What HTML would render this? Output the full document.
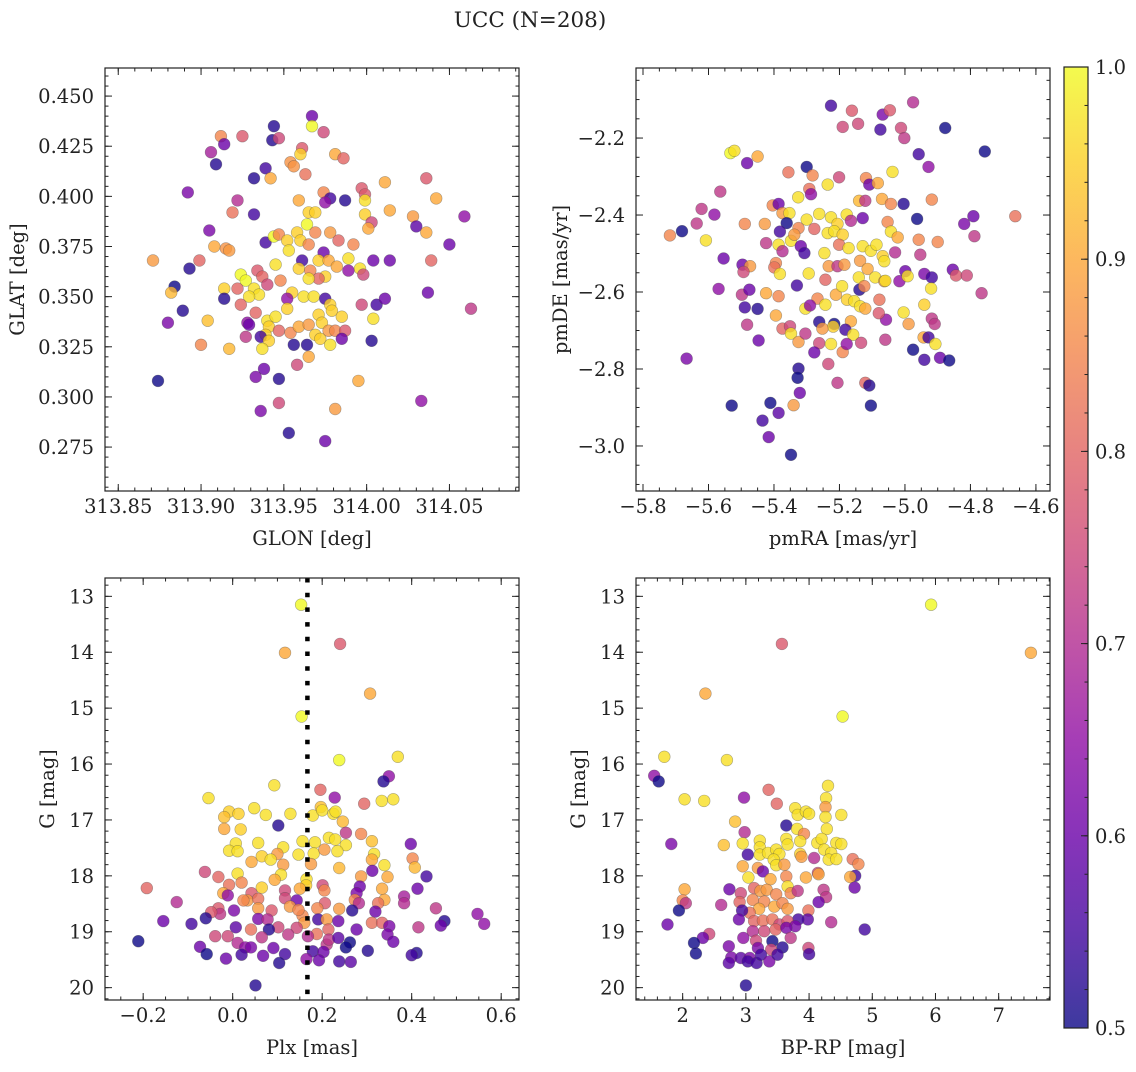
<!DOCTYPE html>
<html><head><meta charset="utf-8"><style>
html,body{margin:0;padding:0;background:#fff;}
svg text{font-family:"DejaVu Serif","Liberation Serif",serif;fill:#222;}
</style></head><body>
<svg id="fig" width="1136" height="1067" viewBox="0 0 1136 1067" xmlns="http://www.w3.org/2000/svg">
<defs>
<linearGradient id="plasmaGrad" x1="0" y1="1" x2="0" y2="0">
<stop offset="0" stop-color="#0d0887"/><stop offset="0.1" stop-color="#41049d"/><stop offset="0.2" stop-color="#6a00a8"/><stop offset="0.3" stop-color="#8f0da4"/><stop offset="0.4" stop-color="#b12a90"/><stop offset="0.5" stop-color="#cc4778"/><stop offset="0.6" stop-color="#e16462"/><stop offset="0.7" stop-color="#f2844b"/><stop offset="0.8" stop-color="#fca636"/><stop offset="0.9" stop-color="#fcce25"/><stop offset="1" stop-color="#f0f921"/>
</linearGradient>
</defs>
<text x="530" y="27" text-anchor="middle" font-size="21.5">UCC (N=208)</text>
</svg>
<script>
// ---- Panel TL: GLON vs GLAT ----
const glon=[313.967,313.967,313.974,313.944,313.943,313.947,313.912,313.914,313.925,313.906,313.909,313.961,313.960,313.981,313.986,313.954,313.956,313.963,313.939,313.932,313.942,314.011,314.036,313.892,313.922,313.919,313.932,313.959,313.974,313.978,313.975,313.987,313.997,313.999,313.999,313.999,314.003,314.001,314.014,314.042,314.028,314.030,314.036,314.059,314.050,313.965,313.969,313.964,313.969,313.978,313.983,313.992,313.905,313.908,313.915,313.917,313.871,313.899,313.893,313.884,313.882,313.914,313.914,313.889,313.880,313.904,313.900,313.917,313.874,313.939,313.944,313.947,313.952,313.958,313.960,313.953,313.965,313.974,313.989,313.996,314.004,314.014,314.039,313.998,313.961,313.971,313.977,313.982,313.959,313.945,313.966,313.975,313.971,313.965,313.989,313.924,313.927,313.934,313.937,313.948,313.940,313.922,313.932,313.935,313.929,313.955,313.962,313.968,313.975,313.952,313.924,313.933,313.952,313.978,313.979,313.985,313.997,314.006,314.011,314.037,314.063,314.004,314.003,313.928,313.929,313.940,313.945,313.941,313.947,313.939,313.936,313.941,313.927,313.954,313.959,313.965,313.971,313.973,313.969,313.972,313.977,313.978,313.981,313.987,313.985,313.956,313.964,313.937,313.965,313.958,313.938,313.933,313.947,313.995,314.033,313.947,313.936,313.981,313.953,313.975];
const glat=[.440,.435,.432,.435,.428,.429,.430,.426,.430,.422,.416,.424,.421,.421,.419,.417,.415,.411,.414,.409,.409,.407,.409,.402,.398,.392,.391,.398,.402,.399,.397,.398,.404,.401,.398,.391,.387,.384,.393,.399,.390,.385,.382,.390,.376,.392,.392,.386,.382,.382,.378,.376,.383,.375,.374,.373,.368,.368,.364,.355,.352,.354,.349,.343,.337,.338,.326,.324,.308,.377,.380,.381,.378,.382,.378,.373,.376,.372,.369,.364,.368,.368,.368,.361,.368,.368,.368,.365,.364,.366,.363,.360,.359,.359,.363,.361,.358,.363,.360,.358,.356,.354,.354,.351,.350,.352,.350,.350,.349,.349,.346,.342,.344,.346,.343,.340,.346,.346,.349,.352,.344,.339,.328,.337,.336,.338,.340,.335,.333,.331,.330,.328,.330,.332,.335,.336,.341,.337,.331,.329,.333,.326,.333,.333,.329,.326,.326,.324,.320,.316,.314,.310,.309,.308,.298,.297,.293,.294,.282,.278];
const probTL=[.6,1,.75,.52,.52,.75,.85,.6,.78,.68,.52,.78,.95,.9,.8,.87,.87,.82,.55,.52,.9,.9,.78,.62,.7,.82,.55,.9,.85,.55,.65,.52,.78,.78,.97,.95,.75,.9,.9,.9,.88,.58,.9,.65,.6,.95,.95,1,.85,.88,.8,.85,.62,.9,.87,.88,.88,.8,.52,.5,.92,.95,.52,.52,.62,.93,.85,.92,.5,.55,1,.85,.95,.95,.95,.97,.85,.6,.97,.97,.6,.6,.8,.75,.55,.95,.9,.9,.95,.97,.85,.95,.8,.97,.65,1,1,.78,.8,.85,.75,.8,.97,.97,.97,.95,.97,.97,.55,.65,.8,.8,.95,.95,.95,.95,.75,.55,.6,.6,.72,.97,.52,.65,.6,.97,.97,.95,.8,.95,.55,.95,.72,.85,.9,.88,.95,.95,.95,.95,.88,.97,.85,.78,.6,.52,.52,.97,.9,.75,.6,.62,.52,.9,.65,.75,.62,.88,.52,.6];
const ticksTLx=[313.85,313.90,313.95,314.00,314.05];
const ticksTLy=[0.275,0.300,0.325,0.350,0.375,0.400,0.425,0.450];

// ---- Panel TR: pmRA vs pmDE ----
const pmra=[-5.226,-5.162,-5.068,-5.046,-4.975,-5.190,-5.143,-5.075,-5.012,-5.002,-4.877,-4.756,-4.958,-4.928,-5.533,-5.521,-5.450,-5.482,-5.300,-5.356,-5.282,-5.201,-5.236,-5.119,-5.109,-5.083,-5.038,-5.292,-5.287,-5.326,-5.140,-5.121,-5.070,-5.043,-5.004,-4.918,-4.663,-4.791,-4.819,-4.788,-4.963,-5.564,-5.621,-5.582,-5.636,-5.681,-5.718,-5.608,-5.554,-5.569,-5.667,-5.489,-5.428,-5.404,-5.386,-5.374,-5.353,-5.361,-5.382,-5.325,-5.300,-5.277,-5.262,-5.226,-5.178,-5.165,-5.206,-5.236,-5.216,-5.190,-5.129,-5.053,-5.043,-5.022,-4.958,-4.900,-5.424,-5.386,-5.348,-5.338,-5.318,-5.307,-5.374,-5.201,-5.172,-5.129,-5.104,-5.087,-5.068,-5.063,-5.030,-4.953,-5.246,-5.137,-5.496,-5.473,-5.493,-5.394,-5.399,-5.382,-5.233,-5.206,-5.185,-5.294,-5.243,-5.141,-5.114,-5.091,-5.063,-5.060,-5.017,-4.999,-4.992,-4.941,-4.918,-4.854,-4.844,-4.811,-4.920,-4.766,-5.330,-5.498,-5.475,-5.424,-5.386,-5.267,-5.211,-5.192,-5.177,-5.155,-5.139,-5.124,-5.137,-5.121,-5.078,-4.941,-5.489,-5.450,-5.304,-5.243,-5.290,-5.394,-5.482,-5.262,-5.216,-5.219,-5.165,-5.182,-5.158,-5.252,-5.374,-5.351,-5.348,-5.325,-5.304,-5.447,-5.262,-5.226,-5.190,-5.178,-5.134,-5.277,-5.060,-5.058,-5.080,-5.004,-4.989,-4.918,-4.909,-4.943,-4.928,-4.907,-4.975,-4.941,-4.893,-4.865,-5.325,-5.328,-5.321,-5.234,-5.206,-5.121,-5.109,-5.104,-5.340,-5.529,-5.411,-5.386,-5.435,-5.416,-5.348];
const pmde=[-2.116,-2.129,-2.139,-2.128,-2.107,-2.171,-2.163,-2.178,-2.174,-2.200,-2.174,-2.235,-2.242,-2.275,-2.239,-2.233,-2.248,-2.265,-2.275,-2.289,-2.297,-2.302,-2.321,-2.304,-2.321,-2.317,-2.288,-2.332,-2.346,-2.354,-2.363,-2.363,-2.358,-2.371,-2.371,-2.360,-2.403,-2.403,-2.423,-2.455,-2.410,-2.339,-2.384,-2.399,-2.422,-2.442,-2.453,-2.466,-2.513,-2.592,-2.773,-2.423,-2.423,-2.375,-2.371,-2.395,-2.395,-2.421,-2.443,-2.434,-2.412,-2.436,-2.397,-2.406,-2.399,-2.415,-2.423,-2.447,-2.442,-2.451,-2.408,-2.418,-2.443,-2.458,-2.464,-2.470,-2.473,-2.477,-2.467,-2.451,-2.481,-2.499,-2.494,-2.477,-2.486,-2.481,-2.493,-2.477,-2.507,-2.520,-2.497,-2.503,-2.499,-2.519,-2.529,-2.533,-2.548,-2.525,-2.536,-2.553,-2.533,-2.533,-2.529,-2.552,-2.568,-2.562,-2.540,-2.562,-2.572,-2.571,-2.572,-2.546,-2.559,-2.553,-2.562,-2.542,-2.557,-2.557,-2.591,-2.603,-2.583,-2.607,-2.594,-2.603,-2.611,-2.617,-2.607,-2.585,-2.620,-2.624,-2.594,-2.585,-2.637,-2.643,-2.620,-2.633,-2.640,-2.644,-2.643,-2.633,-2.635,-2.661,-2.685,-2.678,-2.683,-2.690,-2.676,-2.698,-2.711,-2.695,-2.695,-2.689,-2.708,-2.730,-2.708,-2.726,-2.733,-2.735,-2.756,-2.735,-2.732,-2.757,-2.724,-2.672,-2.655,-2.653,-2.683,-2.669,-2.683,-2.718,-2.718,-2.735,-2.750,-2.776,-2.771,-2.778,-2.799,-2.823,-2.862,-2.787,-2.836,-2.836,-2.843,-2.895,-2.894,-2.895,-2.888,-2.914,-2.934,-2.977,-3.023];
const probTR=[.55,.78,.62,.78,.7,.75,.75,.55,.75,.72,.5,.5,.55,.65,1,.97,.9,.6,.5,.82,.85,.75,.97,.85,.6,.9,.97,.82,.65,.97,.92,.72,.9,.85,.52,.85,.82,.6,.62,.72,.5,.72,.72,.65,.72,.5,.85,.97,.6,.65,.62,.85,.88,.85,.6,.88,.97,.5,.55,.85,.97,.8,.97,.97,.97,.7,.95,.97,.97,.95,.6,.85,.97,.9,.85,.85,.72,.97,.97,.88,.6,.55,.7,.82,.97,.97,.97,.97,.95,.97,.7,.72,.97,.88,.6,.88,.75,.85,.82,.97,.88,.72,.88,.97,.8,.97,.9,.97,.88,.97,.65,.6,.97,.62,.55,.6,.78,.75,.97,.72,.55,.72,.6,.9,.85,.85,.9,.97,.95,.97,.52,.85,.97,.9,.82,.95,.55,.52,.97,.97,.65,.9,.72,.52,.5,.95,.9,.55,.97,.88,.8,.75,.97,.88,.72,.6,.75,.97,.85,.65,.75,.6,.72,.65,.78,.97,.88,.72,.72,.9,.55,.97,.5,.55,.6,.5,.52,.5,.6,.75,.72,.8,.52,.5,.88,.5,.5,.58,.55,.6,.5];
const ticksTRx=[-5.8,-5.6,-5.4,-5.2,-5.0,-4.8,-4.6];
const ticksTRy=[-3.0,-2.8,-2.6,-2.4,-2.2];

// ---- Panel BL: Plx vs G ----
const plx=[.153,.117,.240,.307,.154,.238,.369,.349,.337,-.054,.093,.196,.228,.294,.333,.359,-.008,-.019,.013,.048,.074,.129,.102,-.019,.018,.179,.197,.200,.225,.230,.246,.253,.287,.311,.398,.007,-.008,.011,.057,.113,.100,.156,.184,.215,.229,.253,.234,.147,.181,.205,.065,.085,.042,.113,.175,.316,.311,.339,.402,.407,-.062,.312,.011,.108,.094,-.032,-.008,.020,.065,.165,.164,.150,.201,.205,.238,.287,.346,.433,.284,.334,.413,-.192,-.021,-.011,.042,.117,-.125,.033,.024,.057,.057,.117,.143,.128,.206,.189,.277,.273,.282,.339,.325,.383,.383,.454,-.032,-.028,-.048,.003,-.060,-.092,-.155,-.211,.057,.087,.078,.156,.147,.238,.267,.319,.311,.334,.191,.210,.236,.547,.562,.473,.465,.415,.007,.041,.102,.081,.160,.143,.124,.214,.188,.277,.350,.346,.359,-.039,-.011,.065,.168,.011,-.073,.028,.041,.091,.210,.215,.236,.262,.253,.302,-.058,.020,.068,.117,.179,.203,.411,.400,-.015,.104,.165,.193,.238,.264,.051];
const gBL=[13.15,14.01,13.85,14.74,15.15,15.93,15.87,16.22,16.31,16.61,16.38,16.46,16.60,16.71,16.66,16.63,16.85,16.95,16.89,16.79,16.91,16.89,17.10,17.16,17.17,16.92,16.77,16.83,16.89,16.85,17.03,17.23,17.25,17.38,17.43,17.42,17.55,17.56,17.41,17.49,17.61,17.38,17.40,17.32,17.35,17.45,17.56,17.62,17.60,17.53,17.65,17.71,17.75,17.80,17.79,17.61,17.71,17.81,17.69,17.85,17.93,17.91,17.96,17.98,18.07,18.02,18.16,18.12,18.21,18.06,18.17,18.23,18.17,18.26,17.86,18.01,18.02,18.01,18.19,18.23,18.23,18.22,18.31,18.35,18.31,18.26,18.47,18.44,18.44,18.41,18.58,18.40,18.44,18.55,18.49,18.58,18.31,18.43,18.49,18.43,18.49,18.37,18.49,18.58,18.58,18.68,18.65,18.62,18.76,18.86,18.81,19.17,18.77,18.62,18.78,18.71,18.61,18.59,18.62,18.64,18.84,18.84,18.78,18.78,18.81,18.68,18.86,18.81,18.89,18.92,18.92,18.96,18.92,18.96,18.84,18.93,19.05,18.96,19.04,18.96,18.90,19.05,19.18,19.08,19.08,19.10,19.08,19.20,19.27,19.28,19.28,19.29,19.23,19.14,19.11,19.19,19.28,19.34,19.40,19.41,19.43,19.40,19.35,19.36,19.38,19.42,19.48,19.56,19.49,19.51,19.53,19.54,19.96];
const probBL=[1,.9,.78,.9,1,1,.97,.65,.52,.97,.97,.8,.65,.8,.97,.97,.95,.93,.95,.97,.97,.97,.52,.9,.95,.97,.93,.97,.97,.97,.92,.72,.85,.93,.6,.97,.97,.97,.97,.97,.88,.97,.97,.97,.97,.97,.97,.97,.97,.88,.95,.97,.9,.88,.88,.97,.9,.97,.85,.92,.75,.6,.97,.97,.9,.8,.82,.85,.95,.97,.95,.9,.75,.85,.92,.88,.9,.55,.6,.9,.6,.8,.9,.65,.78,.75,.7,.88,.85,.82,.88,.75,.6,.88,.78,.85,.62,.85,.7,.9,.82,.68,.7,.72,.78,.72,.78,.62,.52,.55,.6,.5,.62,.78,.7,.85,.85,.88,.52,.6,.82,.8,.55,.88,.6,.65,.65,.52,.6,.72,.58,.82,.75,.52,.88,.75,.72,.8,.82,.6,.62,.62,.6,.75,.75,.72,.7,.7,.6,.65,.62,.6,.72,.72,.58,.5,.5,.52,.5,.55,.6,.55,.55,.6,.52,.55,.6,.52,.65,.6,.55,.58,.52];
const plxMean=0.167;
const ticksBLx=[-0.2,0.0,0.2,0.4,0.6];
const ticksGy=[13,14,15,16,17,18,19,20];

// ---- Panel BR: BP-RP vs G ----
const bprp=[5.93,7.51,3.57,2.36,4.53,1.71,2.70,1.55,1.62,2.03,2.34,2.97,3.36,3.49,4.30,4.27,4.26,4.26,4.28,4.51,3.78,3.82,3.95,4.00,2.83,3.64,2.98,3.81,3.92,1.82,2.65,2.95,3.22,3.22,3.22,3.35,3.48,3.53,3.64,3.66,3.86,3.86,3.88,4.13,4.20,4.43,4.51,4.24,4.35,4.31,4.43,4.08,3.03,3.44,3.48,3.61,2.95,3.19,3.27,3.04,4.69,4.78,4.73,4.65,4.72,3.95,4.14,4.15,3.39,3.64,3.66,2.03,2.74,2.92,3.13,3.23,3.33,3.48,3.71,3.82,4.23,4.27,4.15,2.00,2.05,1.94,2.61,2.90,3.11,3.29,3.45,3.58,3.66,3.21,3.06,2.94,2.89,3.99,3.98,3.83,4.35,1.76,3.13,3.27,3.42,3.53,3.66,3.78,3.11,3.29,3.47,3.64,3.71,4.88,2.42,2.32,2.18,2.21,2.96,3.16,3.42,3.58,3.40,3.19,2.73,3.99,4.00,2.77,2.73,2.92,3.06,3.03,3.17,3.24,3.37,3.50,3.00];
const gBR=[13.15,14.01,13.85,14.74,15.15,15.87,15.93,16.21,16.31,16.63,16.66,16.60,16.46,16.71,16.39,16.61,16.77,16.95,17.16,16.91,16.79,16.91,16.85,16.89,17.03,17.10,17.22,17.16,17.25,17.43,17.45,17.42,17.37,17.49,17.62,17.59,17.53,17.61,17.34,17.44,17.38,17.61,17.66,17.41,17.34,17.41,17.43,17.53,17.59,17.71,17.70,17.68,17.62,17.71,17.81,17.80,17.83,17.86,17.92,18.03,17.70,17.79,18.00,18.02,18.21,18.03,17.95,17.97,18.06,18.01,18.19,18.24,18.24,18.31,18.22,18.27,18.25,18.33,18.31,18.27,18.25,18.38,18.47,18.44,18.49,18.62,18.52,18.47,18.43,18.46,18.55,18.49,18.59,18.59,18.66,18.62,18.78,18.62,18.78,18.78,18.83,18.87,18.81,18.80,18.78,18.87,18.81,18.90,18.99,18.99,18.96,18.93,19.11,18.96,19.04,19.11,19.20,19.39,19.11,19.16,19.17,19.28,19.32,19.29,19.26,19.29,19.40,19.46,19.56,19.47,19.47,19.53,19.56,19.41,19.53,19.41,19.96];
const probBR=[1,.9,.78,.9,1,.97,.97,.65,.5,.97,.97,.65,.8,.8,.97,.97,.88,.97,.97,.97,.97,.97,.97,.97,.93,.52,.7,.97,.85,.62,.93,.97,.97,.97,.97,.97,.97,.97,.97,.97,.97,.95,.88,.97,.97,.97,.97,.97,.97,.97,.97,.7,.55,.97,.97,.88,.9,.88,.6,.97,.82,.85,.55,.9,.6,.9,.75,.9,.9,.85,.97,.9,.6,.75,.8,.88,.88,.85,.85,.72,.72,.72,.6,.85,.72,.5,.7,.8,.85,.85,.9,.85,.88,.9,.82,.55,.6,.82,.58,.55,.7,.6,.8,.82,.82,.75,.78,.62,.7,.75,.8,.62,.72,.55,.75,.6,.5,.5,.65,.75,.5,.52,.75,.62,.62,.75,.55,.62,.58,.58,.62,.55,.55,.55,.62,.55,.52];
const ticksBRx=[2,3,4,5,6,7];
const ticksCbar=[0.5,0.6,0.7,0.8,0.9,1.0];

const NS='http://www.w3.org/2000/svg';
const svg=document.getElementById('fig');
const FS=19.5;
function mk(tag,attrs,parent){const e=document.createElementNS(NS,tag);for(const k in attrs)e.setAttribute(k,attrs[k]);(parent||svg).appendChild(e);return e;}
const stops=[[13,8,135],[65,4,157],[106,0,168],[143,13,164],[177,42,144],[204,71,120],[225,100,98],[242,132,75],[252,166,54],[252,206,37],[240,249,33]];
function plasma(v){let t=(v-0.5)/0.5;t=Math.max(0,Math.min(1,t))*10;const i=Math.min(9,Math.floor(t)),f=t-i;const a=stops[i],b=stops[i+1];return 'rgb('+[0,1,2].map(k=>Math.round(a[k]+(b[k]-a[k])*f)).join(',')+')';}
function fmtMinus(s){return s.replace('-','\u2212');}

function panel(o){
  const sx=v=>o.x0+(v-o.xd[0])/(o.xd[1]-o.xd[0])*(o.x1-o.x0);
  const sy=v=>o.y1-(v-o.yd[0])/(o.yd[1]-o.yd[0])*(o.y1-o.y0);
  const g=mk('g',{});
  
  
  const cid='clip-'+o.name;
  const cp=mk('clipPath',{id:cid},g);mk('rect',{x:o.x0,y:o.y0,width:o.x1-o.x0,height:o.y1-o.y0},cp);
  const pts=mk('g',{'clip-path':'url(#'+cid+')'},g);
  
  
  const n=Math.min(o.xs.length,o.ys.length,o.cs.length);
  for(let i=0;i<n;i++){
    const c=mk('circle',{cx:sx(o.xs[i]).toFixed(1),cy:sy(o.ys[i]).toFixed(1),r:5.9,fill:plasma(o.cs[i]),'fill-opacity':0.8,stroke:'rgba(70,70,70,0.45)','stroke-width':0.6},pts);
    
    
  }
  if(o.vline!==undefined){
    const l=mk('line',{x1:sx(o.vline),x2:sx(o.vline),y1:o.y0,y2:o.y1,stroke:'#000','stroke-width':4.5,'stroke-dasharray':'4.5 10.2'},g);
    
    
  }
  const fr=mk('rect',{x:o.x0,y:o.y0,width:o.x1-o.x0,height:o.y1-o.y0,fill:'none',stroke:'#222','stroke-width':1.2},g);
  
  
  const tk=mk('g',{stroke:'#222','stroke-width':1},g);
  for(let v=Math.ceil(o.xd[0]/o.xm-1e-6)*o.xm;v<=o.xd[1];v+=o.xm){const x=sx(v);mk('line',{x1:x,x2:x,y1:o.y1,y2:o.y1-3.5},tk);mk('line',{x1:x,x2:x,y1:o.y0,y2:o.y0+3.5},tk);}
  for(let v=Math.ceil(o.yd[0]/o.ym-1e-6)*o.ym;v<=o.yd[1];v+=o.ym){const y=sy(v);mk('line',{x1:o.x0,x2:o.x0+3.5,y1:y,y2:y},tk);mk('line',{x1:o.x1,x2:o.x1-3.5,y1:y,y2:y},tk);}
  o.xt.forEach(v=>{const x=sx(v);mk('line',{x1:x,x2:x,y1:o.y1,y2:o.y1-7},tk);mk('line',{x1:x,x2:x,y1:o.y0,y2:o.y0+7},tk);
    const t=mk('text',{x:x,y:o.y1+22,'text-anchor':'middle','font-size':FS},g);t.textContent=fmtMinus(v.toFixed(o.xdec));
    
    });
  o.yt.forEach(v=>{const y=sy(v);mk('line',{x1:o.x0,x2:o.x0+7,y1:y,y2:y},tk);mk('line',{x1:o.x1,x2:o.x1-7,y1:y,y2:y},tk);
    const t=mk('text',{x:o.x0-11,y:y+7,'text-anchor':'end','font-size':FS},g);t.textContent=fmtMinus(v.toFixed(o.ydec));
    
    });
  const xl=mk('text',{x:(o.x0+o.x1)/2,y:o.y1+54,'text-anchor':'middle','font-size':FS},g);xl.textContent=o.xlab;
  
  
  const ycx=o.ylx, ycy=(o.y0+o.y1)/2;
  const yl=mk('text',{x:ycx,y:ycy,'text-anchor':'middle','font-size':FS,transform:'rotate(-90 '+ycx+' '+ycy+')'},g);yl.textContent=o.ylab;
  
  
}

panel({name:'glon-glat-panel',x0:105,x1:519,y0:68,y1:491,xd:[313.842,314.092],yd:[0.2531,0.464],xs:glon,ys:glat,cs:probTL,xt:ticksTLx,yt:ticksTLy,xm:0.01,ym:0.005,xdec:2,ydec:3,xlab:'GLON [deg]',ylab:'GLAT [deg]',ylx:24});
panel({name:'pm-panel',x0:636,x1:1050,y0:68,y1:491,xd:[-5.8214,-4.557],yd:[-3.117,-2.018],xs:pmra,ys:pmde,cs:probTR,xt:ticksTRx,yt:ticksTRy,xm:0.05,ym:0.05,xdec:1,ydec:1,xlab:'pmRA [mas/yr]',ylab:'pmDE [mas/yr]',ylx:567});
panel({name:'plx-g-panel',x0:105,x1:519,y0:578,y1:1000,xd:[-0.2853,0.6398],yd:[-20.221,-12.672],xs:plx,ys:gBL.map(v=>-v),cs:probBL,xt:ticksBLx,yt:[],xm:0.05,ym:0.2,xdec:1,ydec:0,xlab:'Plx [mas]',ylab:'G [mag]',ylx:54,vline:plxMean});
panel({name:'cmd-panel',x0:636,x1:1050,y0:578,y1:1000,xd:[1.2616,7.812],yd:[-20.221,-12.672],xs:bprp,ys:gBR.map(v=>-v),cs:probBR,xt:ticksBRx,yt:[],xm:0.2,ym:0.2,xdec:0,ydec:0,xlab:'BP-RP [mag]',ylab:'G [mag]',ylx:585});

[[105,519],[636,1050]].forEach(([x0,x1])=>{
  const sy=v=>578+(v-12.672)/(20.221-12.672)*422;
  ticksGy.forEach(v=>{const y=sy(v);mk('line',{x1:x0,x2:x0+7,y1:y,y2:y,stroke:'#222'});mk('line',{x1:x1,x2:x1-7,y1:y,y2:y,stroke:'#222'});
    const t=mk('text',{x:x0-11,y:y+7,'text-anchor':'end','font-size':FS});t.textContent=String(v);
    
    });
});

const cb=mk('g',{});


const cbY0=67,cbY1=1028,cbX0=1064,cbX1=1088;
const cy=v=>cbY1-(v-0.5)/0.5*(cbY1-cbY0);
mk('rect',{x:cbX0,y:cbY0,width:cbX1-cbX0,height:cbY1-cbY0,fill:'url(#plasmaGrad)','fill-opacity':0.8},cb);
mk('rect',{x:cbX0,y:cbY0,width:cbX1-cbX0,height:cbY1-cbY0,fill:'none',stroke:'#222','stroke-width':1.2},cb);
for(let v=0.5;v<=1.0001;v+=0.02){mk('line',{x1:cbX1,x2:cbX1-3.5,y1:cy(v),y2:cy(v),stroke:'#222'},cb);}
ticksCbar.forEach(v=>{mk('line',{x1:cbX1,x2:cbX1-7,y1:cy(v),y2:cy(v),stroke:'#222'},cb);
  const t=mk('text',{x:1095,y:cy(v)+7,'font-size':FS},cb);t.textContent=v.toFixed(1);
  
  });
</script>
</body></html>
